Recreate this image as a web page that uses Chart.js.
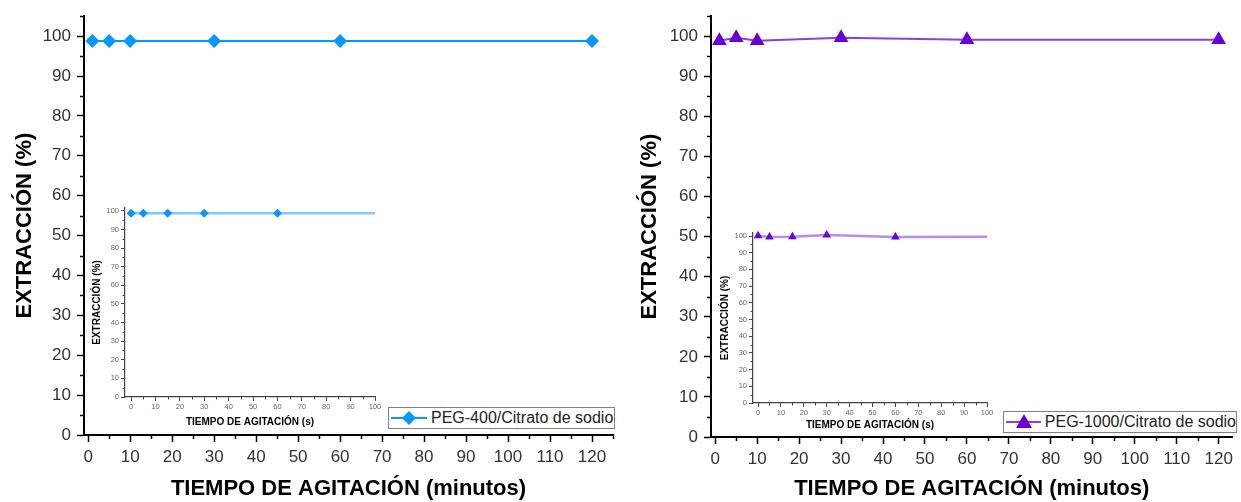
<!DOCTYPE html>
<html>
<head>
<meta charset="utf-8">
<script src="https://cdn.jsdelivr.net/npm/chart.js@4.4.0/dist/chart.umd.min.js"></script>
<style>
    body { margin: 0; background: #fff; width: 1241px; height: 502px; position: relative; overflow: hidden; font-family: "Liberation Sans", Arial, sans-serif; }
    canvas { position: absolute; }
    .legend { position: absolute; box-sizing: border-box; height: 22px; border: 1px solid #808080; background: #fff; display: flex; align-items: center; font-size: 16px; color: #222; white-space: nowrap; }
    .sym { position: relative; width: 36px; height: 20px; margin: 0 4px 0 2px; }
    .sym .ln { position: absolute; left: 0; right: 0; top: 9px; height: 2px; }
    .sym .dia { position: absolute; left: 13px; top: 5px; width: 10px; height: 10px; transform: rotate(45deg); }
    .sym .tri { position: absolute; left: 10px; top: 2px; width: 0; height: 0; border-left: 8px solid transparent; border-right: 8px solid transparent; border-bottom: 14px solid; }
</style>
</head>
<body>
<canvas id="mainA" width="620" height="502" style="left:0;top:0"></canvas>
<canvas id="mainB" width="621" height="502" style="left:620px;top:0"></canvas>
<canvas id="insetA" width="310" height="236" style="left:80px;top:196px"></canvas>
<canvas id="insetB" width="300" height="212" style="left:700px;top:222px"></canvas>
<div id="legendA" class="legend" style="left:388px;top:407px;width:227px"></div>
<div id="legendB" class="legend" style="left:1003px;top:411px;width:234px"></div>

<script>
// values
const mainTimes = [1, 5, 10, 30, 60, 120];
const peg400Main = [98.8, 98.8, 98.8, 98.8, 98.8, 98.8];
const peg1000Main = [98.9, 99.6, 98.9, 99.6, 99.1, 99.1];

const insetTimes = [0, 5, 15, 30, 60, 100];
const peg400Inset = [98.8, 98.8, 98.8, 98.8, 98.8, 98.8];
const peg1000Inset = [100.2, 99.4, 99.6, 100.6, 99.4, 99.6];

const mainXTicks = [0, 10, 20, 30, 40, 50, 60, 70, 80, 90, 100, 110, 120];
const mainYTicks = [0, 10, 20, 30, 40, 50, 60, 70, 80, 90, 100];
const insetXTicks = [0, 10, 20, 30, 40, 50, 60, 70, 80, 90, 100];
const insetYTicks = [0, 10, 20, 30, 40, 50, 60, 70, 80, 90, 100];

const seriesNames = ['PEG-400/Citrato de sodio', 'PEG-1000/Citrato de sodio'];

const FONT = '"Liberation Sans", Arial, sans-serif';
const BLUE = '#0a98f8';
const BLUE_LIGHT = '#7ccdfb';
const PURPLE = '#6a00d6';
const PURPLE_LINE = '#8a3ee8';
const PURPLE_LIGHT = '#b88af2';

// small ticks between the labelled ones
const minorTicks = {
    id: 'minorTicks',
    afterDraw(chart, args, opts) {
        const ctx = chart.ctx;
        ['x', 'y'].forEach(id => {
            const s = chart.scales[id];
            const step = opts[id];
            if (!step) return;
            ctx.save();
            ctx.strokeStyle = opts.color;
            ctx.lineWidth = opts.width;
            for (let v = Math.ceil(s.min / step) * step; v <= s.max + 1e-9; v += step) {
                if (Math.round(v / step) % 2 === 0) continue;
                const p = Math.round(s.getPixelForValue(v)) + 0.5;
                ctx.beginPath();
                if (id === 'x') {
                    ctx.moveTo(p, s.top);
                    ctx.lineTo(p, s.top + opts.len);
                } else {
                    ctx.moveTo(s.right, p);
                    ctx.lineTo(s.right - opts.len, p);
                }
                ctx.stroke();
            }
            ctx.restore();
        });
    }
};

function axis(o) {
    return {
        type: 'linear',
        min: o.min,
        max: o.max,
        afterFit: s => {
            if (s.isHorizontal()) s.height = o.size;
            else s.width = o.size;
        },
        afterBuildTicks: s => {
            s.ticks = o.ticks.map(v => ({ value: v }));
        },
        grid: {
            drawOnChartArea: false,
            drawTicks: true,
            tickLength: o.tickLen,
            tickWidth: o.tickWidth,
            tickColor: o.lineColor
        },
        border: { display: true, color: o.lineColor, width: o.borderWidth },
        ticks: {
            color: o.tickColor,
            font: { family: FONT, size: o.tickSize },
            padding: o.tickPad,
            maxRotation: 0,
            autoSkip: false
        },
        title: {
            display: true,
            text: o.title,
            color: '#000',
            font: { family: FONT, size: o.titleSize, weight: 'bold' },
            padding: o.titlePad
        }
    };
}

function makeChart(id, ds, x, y, padding, minor) {
    return new Chart(document.getElementById(id).getContext('2d'), {
        type: 'scatter',
        data: { datasets: [ds] },
        options: {
            responsive: false,
            animation: false,
            layout: { padding: padding },
            scales: { x: axis(x), y: axis(y) },
            plugins: {
                legend: { display: false },
                tooltip: { enabled: false },
                minorTicks: minor
            }
        },
        plugins: [minorTicks]
    });
}

function points(xs, ys) {
    return xs.map((t, i) => ({ x: t, y: ys[i] }));
}

function mainSet(ys, color, lineColor, style, radius) {
    return {
        data: points(mainTimes, ys),
        showLine: true,
        tension: 0,
        borderColor: lineColor,
        borderWidth: 2,
        pointStyle: style,
        pointRadius: radius,
        pointBackgroundColor: color,
        pointBorderColor: color,
        pointBorderWidth: 0,
        clip: false
    };
}

function insetSet(ys, color, lineColor, style, radius) {
    return {
        data: points(insetTimes, ys),
        showLine: true,
        tension: 0,
        borderColor: lineColor,
        borderWidth: 2.5,
        pointStyle: style,
        // the last entry only carries the line out to the axis end
        pointRadius: insetTimes.map((t, i) => i === insetTimes.length - 1 ? 0 : radius),
        pointBackgroundColor: color,
        pointBorderColor: color,
        pointBorderWidth: 0,
        clip: false
    };
}

const mainX = {
    ticks: mainXTicks, title: 'TIEMPO DE AGITACIÓN (minutos)', tickLen: 7, tickWidth: 1.5,
    lineColor: '#000', borderWidth: 2, tickColor: '#333', tickSize: 17, tickPad: 5, titleSize: 22,
    titlePad: { top: 0, bottom: 0 }
};
const mainY = {
    ticks: mainYTicks, title: 'EXTRACCIÓN (%)', tickLen: 7, tickWidth: 1.5,
    lineColor: '#000', borderWidth: 2, tickColor: '#333', tickSize: 17, tickPad: 6, titleSize: 22,
    titlePad: { top: 12, bottom: 0 }, min: 0, max: 105
};
const insetX = {
    ticks: insetXTicks, title: 'TIEMPO DE AGITACIÓN (s)', tickLen: 4, tickWidth: 1,
    lineColor: '#444', borderWidth: 1.2, tickColor: '#666', tickSize: 7.5, tickPad: 1, titleSize: 10,
    max: 100
};
const insetY = {
    ticks: insetYTicks, title: 'EXTRACCIÓN (%)', tickLen: 4, tickWidth: 1,
    lineColor: '#444', borderWidth: 1.2, tickColor: '#666', tickSize: 7.5, tickPad: 2, titleSize: 10,
    min: 0
};
const mainMinor = { x: 5, y: 5, len: 4, width: 1.5, color: '#000' };
const insetMinor = { x: 5, y: 5, len: 2.5, width: 1, color: '#444' };

makeChart('mainA',
    mainSet(peg400Main, BLUE, BLUE, 'rectRot', 7),
    Object.assign({}, mainX, { min: -1, max: 125, size: 67 }),
    Object.assign({}, mainY, { size: 84 }),
    { left: 0, top: 15, right: 7, bottom: 0 }, mainMinor);

makeChart('mainB',
    mainSet(peg1000Main, PURPLE, PURPLE_LINE, 'triangle', 8.5),
    Object.assign({}, mainX, { min: -1, max: 123.3, size: 65 }),
    Object.assign({}, mainY, { size: 91, titlePad: { top: 17, bottom: 0 } }),
    { left: 0, top: 15, right: 8, bottom: 0 }, mainMinor);

makeChart('insetA',
    insetSet(peg400Inset, BLUE, BLUE_LIGHT, 'rectRot', 4.5),
    Object.assign({}, insetX, { min: -2.5, size: 35, titlePad: { top: 0, bottom: 4 } }),
    Object.assign({}, insetY, { max: 101.6, size: 45, titlePad: { top: 11, bottom: 0 } }),
    { left: 0, top: 12, right: 15, bottom: 0 }, insetMinor);

makeChart('insetB',
    insetSet(peg1000Inset, PURPLE, PURPLE_LIGHT, 'triangle', 5),
    Object.assign({}, insetX, { min: -2.2, size: 31, titlePad: { top: 0, bottom: 3 } }),
    Object.assign({}, insetY, { max: 101.8, size: 53, titlePad: { top: 19, bottom: 0 } }),
    { left: 0, top: 11, right: 13, bottom: 0 }, insetMinor);

function fillLegend(id, name, color, lineColor, shape) {
    const el = document.getElementById(id);
    const mark = shape === 'diamond'
        ? `<span class="dia" style="background:${color}"></span>`
        : `<span class="tri" style="border-bottom-color:${color}"></span>`;
    el.innerHTML = `<span class="sym"><span class="ln" style="background:${lineColor}"></span>${mark}</span><span>${name}</span>`;
}

fillLegend('legendA', seriesNames[0], BLUE, BLUE, 'diamond');
fillLegend('legendB', seriesNames[1], PURPLE, PURPLE_LINE, 'triangle');
</script>
</body>
</html>
